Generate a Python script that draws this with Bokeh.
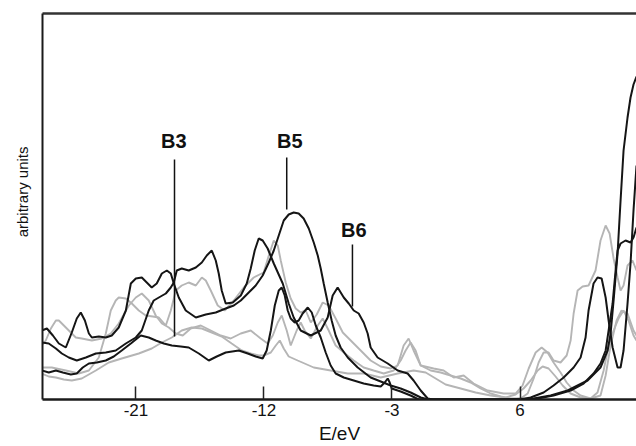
import math
from bokeh.plotting import figure
from bokeh.models import Range1d, FixedTicker, LinearAxis
from bokeh.core.properties import value
from bokeh.embed import file_html
from bokeh.resources import INLINE

# ---------------- data (E in eV, intensity in arbitrary units) ----------------
tick_values = [-21, -12, -3, 6]
tick_labels = ["-21", "-12", "-3", "6"]

e_k1 = [-27.62, -27.26, -26.84, -26.42, -25.93, -25.51, -25.16, -24.88, -24.59, -24.31, -24.10, -23.61, -23.12,
        -22.70, -22.21, -21.71, -21.36, -21.01, -20.59, -20.24, -19.89, -19.54, -19.18, -18.83, -18.55, -18.34,
        -17.99, -17.50, -16.79, -16.09, -15.39, -14.69, -14.12, -13.63, -13.14, -12.58, -12.09, -11.66, -11.31,
        -10.96, -10.61, -10.26, -9.91, -9.56, -9.21, -8.85, -8.50, -8.22, -8.01, -7.80, -7.52, -7.24, -6.96,
        -6.61, -6.11, -5.41, -4.50, -3.79, -3.09, -2.39, -1.69, -0.98, -0.42, 4.64, 6.96, 8.15, 9.35, 10.75,
        11.66, 12.16, 12.37, 12.58, 12.86, 13.07, 13.28, 13.56, 13.77, 13.98, 14.19]
i_k1 = [6.9, 7.1, 6.4, 5.6, 5.2, 6.7, 8.1, 8.7, 7.9, 6.6, 6.2, 6.3, 6.2,
        6.4, 7.2, 8.9, 11.6, 12.1, 12.2, 11.7, 11.2, 11.6, 12.6, 12.9, 12.6, 11.6,
        10.2, 8.9, 8.2, 8.5, 8.7, 9.1, 9.4, 9.9, 10.6, 11.4, 12.4, 13.7, 14.9,
        16.4, 17.9, 18.5, 18.7, 18.6, 18.1, 17.1, 15.7, 14.4, 13.1, 11.6, 9.7, 7.9, 6.4,
        5.2, 4.2, 3.2, 2.2, 1.8, 1.4, 1.1, 0.7, 0.2, 0.0, 0.0, 0.1, 0.4, 0.9, 1.9,
        3.2, 4.9, 6.6, 9.9, 14.6, 19.9, 24.9, 28.2, 30.2, 31.5, 32.3]

e_k2 = [-27.62, -27.13, -26.63, -26.21, -25.72, -25.16, -24.52, -23.82, -23.12, -22.42, -21.71, -21.01, -20.59,
        -20.10, -19.75, -19.39, -18.90, -18.55, -18.34, -18.13, -17.78, -17.29, -16.79, -16.37, -16.02, -15.67,
        -15.39, -15.18, -14.97, -14.69, -14.19, -13.63, -13.21, -12.93, -12.65, -12.37, -12.09, -11.74, -11.31,
        -10.68, -10.26, -9.91, -9.42, -8.71, -8.01, -7.52, -7.17, -6.82, -6.39, -6.04, -5.69, -5.34, -4.99,
        -4.71, -4.50, -4.01, -3.30, -2.60, -1.90, -1.48, -0.98, -0.49, -0.14, 4.64, 6.04, 6.75, 7.66, 8.36,
        9.07, 9.77, 10.26, 10.61, 10.82, 11.17, 11.45, 11.74, 12.02, 12.23, 12.51, 12.86, 13.07, 13.28, 13.56,
        13.77, 13.98, 14.19]
i_k2 = [5.7, 5.6, 5.1, 4.6, 4.2, 3.9, 4.2, 4.6, 4.7, 4.9, 5.6, 6.2, 6.9,
        8.9, 9.9, 10.2, 10.6, 11.2, 11.7, 12.9, 13.1, 12.9, 13.2, 13.7, 14.4, 14.9,
        13.9, 12.6, 10.9, 9.6, 9.7, 10.4, 11.6, 13.1, 14.9, 16.1, 15.9, 15.1, 13.6,
        11.6, 9.6, 8.2, 6.9, 6.4, 6.9, 8.2, 10.4, 11.2, 10.2, 9.6, 8.9, 8.6, 7.7,
        6.6, 5.2, 4.2, 3.6, 2.9, 2.6, 1.9, 0.9, 0.1, 0.0, 0.0, 0.0, 0.2, 0.7, 1.4,
        2.2, 3.2, 4.2, 6.2, 8.9, 11.6, 12.2, 12.1, 10.2, 7.9, 5.2, 3.2, 3.2, 4.9, 9.6,
        13.6, 18.9, 23.4]

e_k3 = [-27.62, -27.13, -26.63, -26.14, -25.58, -25.16, -24.74, -24.31, -23.75, -23.12, -22.56, -22.00, -21.36,
        -20.66, -20.10, -19.61, -19.04, -18.48, -17.85, -17.29, -16.58, -15.88, -15.32, -14.69, -13.77, -13.14,
        -12.58, -12.09, -11.81, -11.52, -11.24, -10.96, -10.75, -10.54, -10.33, -10.12, -9.84, -9.56, -9.28,
        -8.92, -8.64, -8.36, -8.01, -7.66, -7.31, -6.96, -6.39, -5.69, -4.99, -4.29, -3.79, -3.51, -3.30,
        -3.16, -3.02, -2.39, -1.69, -1.12, 4.64, 6.54, 7.24, 8.36, 9.56, 10.47, 11.17, 11.66, 12.02, 12.23,
        12.51, 12.72, 12.86, 13.07, 13.42, 13.77, 13.98, 14.19]
i_k3 = [2.9, 2.7, 2.9, 2.7, 2.5, 2.6, 3.2, 3.6, 3.7, 3.9, 4.3, 4.9, 5.6,
        6.4, 6.2, 5.9, 5.6, 5.4, 5.3, 5.2, 4.6, 3.9, 4.3, 4.7, 4.9, 4.6,
        4.3, 4.1, 4.9, 6.9, 9.4, 10.9, 11.2, 10.4, 8.9, 8.1, 7.7, 7.9, 8.6,
        9.2, 8.7, 7.4, 6.2, 4.7, 3.4, 2.6, 2.2, 1.9, 1.6, 1.4, 1.3, 1.7, 2.1,
        1.7, 1.1, 0.8, 0.4, 0.0, 0.0, 0.0, 0.1, 0.4, 0.9, 1.6, 2.6, 3.6, 4.9, 6.9,
        9.6, 12.9, 14.9, 15.6, 15.9, 15.7, 16.2, 17.2]

e_g1 = [-27.62, -26.92, -25.93, -25.02, -24.31, -23.61, -23.12, -22.77, -22.42, -22.21, -21.71, -21.29, -20.80,
        -20.31, -19.82, -19.39, -18.90, -18.55, -18.20, -17.78, -17.29, -16.79, -16.37, -16.09, -15.74, -15.25,
        -14.76, -14.12, -13.42, -12.72, -12.02, -11.66, -11.31, -11.03, -10.82, -10.47, -10.12, -9.77, -9.42,
        -9.06, -8.71, -8.29, -7.87, -7.45, -6.96, -6.46, -5.90, -5.20, -4.50, -3.79, -3.09, -2.60, -2.18,
        -1.83, -1.48, -0.98, -0.28, 0.42, 1.12, 1.83, 2.53, 3.23, 3.94, 4.64, 5.34, 6.04, 6.54, 6.96, 7.31,
        7.66, 8.01, 8.36, 8.85, 9.28, 9.56, 9.77, 10.05, 10.40, 10.82, 11.31, 11.66, 12.02, 12.30, 12.58,
        12.86, 13.07, 13.28, 13.56, 13.91, 14.19]
i_g1 = [3.2, 3.2, 2.9, 2.6, 2.9, 4.2, 6.6, 8.9, 9.9, 10.2, 10.1, 9.6, 8.9,
        8.4, 8.3, 8.2, 7.4, 8.9, 10.9, 11.4, 11.7, 11.4, 12.2, 11.9, 10.9, 9.4,
        8.9, 9.9, 11.2, 12.2, 12.7, 14.4, 15.9, 15.4, 13.9, 11.7, 10.1, 9.1, 8.7,
        8.9, 7.7, 8.5, 9.7, 9.4, 8.1, 6.7, 5.9, 4.9, 3.9, 3.3, 3.1, 3.4, 5.4,
        6.1, 4.9, 3.4, 2.9, 2.7, 2.4, 2.1, 1.7, 1.1, 0.6, 0.3, 0.1, 0.1, 0.6, 2.1, 3.7,
        4.7, 4.7, 3.9, 3.7, 4.4, 5.9, 8.6, 10.9, 11.3, 11.4, 12.9, 15.9, 17.4, 16.6, 14.1,
        12.2, 10.9, 11.4, 13.4, 13.9, 12.9]

e_g2 = [-27.62, -27.34, -26.98, -26.63, -26.42, -26.21, -25.72, -25.23, -24.81, -24.10, -23.40, -22.77, -22.21,
        -21.78, -21.50, -21.01, -20.59, -20.10, -19.61, -19.18, -18.69, -18.20, -17.71, -17.15, -16.44, -15.74,
        -15.04, -14.34, -13.63, -12.93, -12.23, -11.74, -11.38, -11.03, -10.75, -10.40, -10.12, -9.70, -9.42,
        -9.14, -8.71, -8.22, -7.87, -7.45, -6.96, -6.39, -5.69, -4.99, -4.29, -3.58, -2.88, -2.39, -2.04,
        -1.69, -1.34, -0.98, -0.07, 0.63, 1.34, 2.04, 2.74, 3.72, 4.85, 5.69, 6.18, 6.61, 7.10, 7.52, 7.94,
        8.36, 8.85, 9.28, 9.77, 10.26, 10.96, 11.66, 12.02, 12.37, 12.79, 13.14, 13.56, 13.98, 14.19]
i_g2 = [5.4, 5.9, 7.1, 7.9, 7.9, 7.6, 6.9, 6.2, 6.1, 5.9, 6.1, 6.6, 7.6,
        8.7, 9.4, 10.2, 10.6, 9.9, 8.4, 7.6, 7.2, 6.6, 6.4, 7.1, 7.4, 6.9,
        6.4, 6.1, 6.6, 6.9, 6.1, 5.6, 6.4, 7.7, 8.4, 6.9, 5.4, 6.9, 7.7,
        6.9, 6.1, 7.4, 8.1, 6.9, 5.4, 4.7, 3.9, 3.2, 2.9, 2.6, 2.9, 3.9, 4.9,
        5.7, 4.9, 3.4, 3.1, 2.9, 2.2, 2.4, 1.6, 0.9, 0.6, 0.6, 1.4, 3.1, 4.7, 5.2, 4.7,
        3.7, 2.7, 1.7, 0.9, 0.4, 0.1, 0.4, 2.4, 5.4, 7.9, 8.9, 8.6, 6.9, 6.4]

e_g3 = [-27.62, -27.13, -26.63, -26.07, -25.51, -24.81, -23.82, -22.91, -22.00, -20.80, -19.89, -19.18, -18.48,
        -17.78, -17.08, -16.37, -15.67, -14.97, -14.27, -13.56, -12.93, -12.37, -12.02, -11.52, -11.17, -10.89,
        -10.61, -10.26, -9.63, -8.50, -7.31, -6.11, -4.99, -3.79, -2.60, -1.48, -0.63, 0.07, 0.77, 1.83,
        2.88, 3.94, 4.99, 5.69, 6.25, 6.75, 7.24, 7.59, 8.01, 8.50, 9.00, 9.56, 10.26, 10.96, 11.45, 11.88,
        12.23, 12.58, 12.93, 13.28, 13.63, 13.98, 14.19]
i_g3 = [2.6, 2.3, 2.2, 2.0, 1.9, 2.1, 2.9, 3.7, 4.1, 4.6, 5.1, 5.7, 6.2,
        6.9, 7.2, 7.1, 6.7, 6.3, 5.6, 4.9, 4.6, 4.4, 4.4, 4.7, 5.4, 5.9,
        5.1, 4.3, 3.9, 3.2, 2.9, 2.6, 2.6, 2.2, 2.6, 2.9, 2.7, 2.1, 1.5, 1.1,
        0.7, 0.4, 0.2, 0.5, 1.1, 1.9, 2.9, 3.3, 3.1, 2.3, 1.4, 0.6, 0.2, 0.1, 0.7, 2.9,
        5.4, 6.9, 8.1, 8.9, 7.9, 6.4, 5.9]

band_names = ["B3", "B5", "B6"]
band_energy = [-18.29, -10.40, -5.78]
band_line_top = [24.0, 24.2, 15.5]
band_line_bottom = [6.3, 19.0, 9.3]
band_label_x = [-18.34, -10.19, -5.69]
band_label_y = [25.9, 25.9, 17.0]

# ---------------- figure ----------------
FONT = "Liberation Sans"
p = figure(width=636, height=446, output_backend="svg", toolbar_location=None,
           x_range=Range1d(-27.57, 14.19), y_range=Range1d(0, 38.6),
           min_border_left=42, min_border_right=0, min_border_top=13, min_border_bottom=47)
p.outline_line_color = None
p.grid.visible = False
p.background_fill_color = "white"
p.border_fill_color = "white"

# x axis
xa = p.xaxis[0]
xa.ticker = FixedTicker(ticks=tick_values)
xa.major_label_overrides = {t: s for t, s in zip(tick_values, tick_labels)}
xa.major_tick_in = 13
xa.major_tick_out = 0
xa.minor_tick_line_color = None
xa.major_tick_line_width = 1.5
xa.major_tick_line_color = "#222222"
xa.axis_line_width = 2.5
xa.axis_line_color = "#1a1a1a"
xa.major_label_text_font = FONT
xa.major_label_text_font_size = "17px"
xa.major_label_text_color = "#111111"
xa.major_label_standoff = 4
xa.axis_label = "E/eV"
xa.axis_label_text_font = FONT
xa.axis_label_text_font_style = "normal"
xa.axis_label_text_font_size = "19px"
xa.axis_label_text_color = "#111111"
xa.axis_label_standoff = 4

# y axis (frame line + label)
ya = p.yaxis[0]
ya.ticker = FixedTicker(ticks=[])
ya.major_tick_line_color = None
ya.minor_tick_line_color = None
ya.major_label_standoff = 0
ya.major_label_text_font_size = "0px"
ya.axis_line_width = 2
ya.axis_line_color = "#1a1a1a"
ya.axis_label = "\u00a0" * 7 + "arbitrary units"
ya.axis_label_text_font = FONT
ya.axis_label_text_font_style = "normal"
ya.axis_label_text_font_size = "15px"
ya.axis_label_text_color = "#111111"
ya.axis_label_standoff = 12

# top border
top = LinearAxis(ticker=FixedTicker(ticks=[]), major_label_text_font_size="0px",
                 major_tick_line_color=None, minor_tick_line_color=None,
                 major_label_standoff=0, axis_line_width=2.5, axis_line_color="#333333")
p.add_layout(top, "above")

# curves
gray = "#b5b5b5"
black = "#151515"
for e, i in [(e_g1, i_g1), (e_g2, i_g2), (e_g3, i_g3)]:
    p.line(e, i, line_color=gray, line_width=1.9)
for e, i in [(e_k1, i_k1), (e_k2, i_k2), (e_k3, i_k3)]:
    p.line(e, i, line_color=black, line_width=2)

# band markers
p.segment(x0=band_energy, y0=band_line_top, x1=band_energy, y1=band_line_bottom,
          line_color="#111111", line_width=1.5)
p.text(x=band_label_x, y=band_label_y, text=band_names, text_font=value(FONT),
       text_font_style="bold", text_font_size="20px", text_align="center",
       text_baseline="middle", text_color="#111111")

open("out.html", "w").write(file_html(p, INLINE))
